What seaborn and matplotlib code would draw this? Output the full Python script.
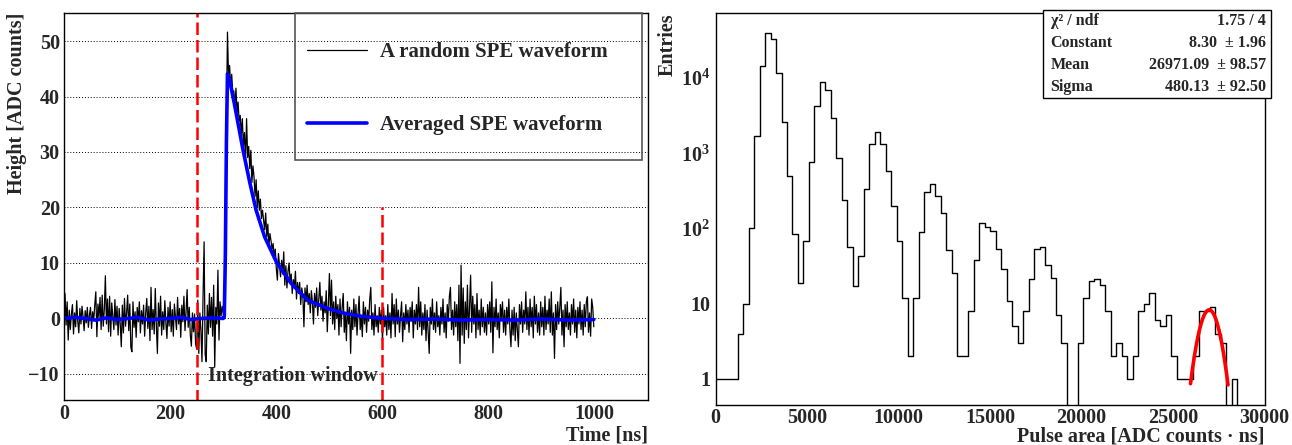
import numpy as np
import pandas as pd
import seaborn as sns
import matplotlib.pyplot as plt
from matplotlib.patches import Rectangle
from matplotlib.ticker import MultipleLocator, FixedLocator, FuncFormatter, LogLocator, NullFormatter

# ---- left panel: SPE waveforms ----
raw_time = list(range(0, 1000, 2))  # ns, one sample every 2 ns
raw_height = [
    -4.2, 4.5, -1.2, 3.0, -3.9, 1.5, -2.0, 0.8, 2.5, -2.8, 1.0, -1.5, 3.2, -0.5, -2.6, 1.8, -1.0, 2.2, 0.3, -2.2, 1.4, -0.8, 2.0, -1.6, 0.6,
    2.0, -1.8, 1.2, -0.4, 2.4, 4.8, -3.3, 2.6, 0.2, 3.8, -2.0, 4.2, -1.4, 1.6, 7.7, -1.0, 3.5, -2.4, 4.0, -3.2, 2.8, 0.5, -2.0, 3.4, -1.2,
    2.2, -3.0, 1.8, -1.0, -5.1, 2.4, -2.6, 3.6, -1.4, 1.0, 4.2, -2.2, 2.6, -5.2, -6.0, 3.0, -1.6, 1.2, -3.4, 2.0, -0.6, 3.0, -2.6, 1.4, -1.0,
    2.4, -3.2, 1.0, 3.6, -1.8, 2.2, -4.0, 5.6, -2.0, 1.6, -2.8, 5.4, -1.2, -6.3, 2.8, -1.4, 4.0, -3.0, 1.2, -2.0, 3.2, -0.8, -3.6, 2.0, -1.4,
    3.0, -2.4, 1.6, -3.2, 2.6, 0.4, -2.0, 3.8, -1.0, 1.8, -3.4, 2.4, -0.6, 4.0, -2.2, 1.2, 5.2, -1.6, 2.0, -3.0, -5.0, 1.0, -2.4, 0.8, -4.6,
    -5.5, 3.3, -6.3, 1.0, -2.2, -7.8, 4.0, 13.8, -6.5, -7.8, 2.4, -2.8, 4.5, -1.6, 3.8, -3.2, 6.0, -8.7, 2.0, -1.0, 8.7, -3.9, 3.0, 0.5, 2.2,
    1.0, 0.8, 12.0, 36.0, 51.6, 43.5, 45.6, 41.7, 44.0, 40.5, 41.0, 38.0, 41.5, 37.0, 39.0, 35.5, 36.6, 33.0, 36.0, 31.0, 33.5, 28.5, 36.0, 29.0, 31.0,
    27.0, 30.3, 24.5, 27.5, 25.5, 22.0, 25.0, 20.0, 23.0, 19.5, 21.5, 18.0, 19.5, 17.7, 16.0, 19.0, 14.7, 17.0, 13.0, 15.3, 14.0, 12.5, 13.5, 11.0, 12.5,
    9.0, 6.9, 11.7, 9.5, 7.5, 10.5, 8.0, 12.0, 6.0, 9.5, 5.5, 8.5, 10.0, 6.5, 8.0, 4.5, 7.0, 5.5, 8.5, 3.5, 6.5, 4.5, 6.5, 2.5, 5.5,
    4.0, -1.5, 5.5, 3.0, 6.0, 2.5, 4.5, 1.0, 5.0, 3.0, -1.0, 4.5, 2.0, 5.5, 0.5, 3.5, 6.5, 1.5, 4.0, -0.5, 3.0, 1.0, 5.0, -2.4, 2.5,
    8.1, 0.5, 6.9, -1.0, 3.0, -2.0, 4.0, 0.0, 2.5, -3.0, 3.5, -1.5, 2.0, 4.5, -2.5, 1.0, -4.0, 3.0, -1.0, 2.0, -6.3, 1.5, -2.0, 3.5, -1.5,
    2.5, -3.0, 1.0, 4.0, -2.0, 0.5, -3.3, 3.0, -1.0, 2.0, -2.5, 1.5, -0.5, 3.5, 5.6, -2.0, 1.0, -3.0, 2.5, -1.5, 0.5, -2.5, 2.0, -1.0, 1.5,
    -4.0, 2.0, -1.5, 0.5, -3.0, 2.5, -2.0, 1.0, -3.5, 4.5, -1.0, 2.5, -3.3, 3.5, -1.0, 1.5, -2.5, 0.5, 3.0, -4.2, 1.0, -2.0, 2.5, -1.0, 1.5,
    -2.5, 2.0, -0.5, 3.0, -3.5, 1.5, -1.0, 2.5, -2.0, 5.6, -1.5, 3.0, -3.0, 1.0, -2.0, 2.5, -4.0, 1.5, -2.5, -6.3, 2.0, -1.0, 3.5, -2.0, 1.0,
    -2.5, 3.0, -1.5, 0.5, -3.0, 2.0, -1.0, 3.5, -2.5, 1.0, -3.5, 2.5, -0.5, 4.0, 5.6, -2.0, 1.5, -3.0, 3.0, -1.5, 2.5, -4.0, 6.0, -8.1, 9.6,
    -3.0, 5.5, -4.5, 3.0, -2.0, 6.0, -3.5, 2.0, 7.8, -2.5, 4.0, -1.0, 2.5, -3.5, 4.5, -2.0, 1.5, -3.0, 3.5, -1.5, 2.0, -2.5, 1.0, -3.0, 2.5,
    -1.0, 3.0, -2.5, 6.6, -6.2, 2.0, -1.5, 3.5, -2.0, 1.0, -3.5, 2.5, 0.0, 3.0, -2.5, 1.5, -3.0, 2.0, -1.0, 3.5, -2.0, -5.1, 1.5, -3.0, 2.0,
    -4.0, 1.0, -2.0, -5.1, 2.5, -1.0, 3.0, -2.5, 1.5, -1.0, 4.8, -2.0, 2.0, -3.0, 3.5, -1.5, 2.0, -3.5, 4.0, -1.0, 2.5, -2.5, 1.0, -3.0, 3.0,
    -1.5, 2.0, -3.0, 4.0, -2.0, 1.5, -1.0, 3.5, -2.5, 4.8, -3.0, 1.0, -7.2, 2.5, -2.0, 3.0, -1.0, 2.0, 5.6, -3.0, 1.5, -5.1, 2.5, -1.5, 3.0,
    -2.0, 1.0, -3.0, 2.5, -1.0, 3.5, -2.5, 1.5, -3.5, 2.0, -1.0, 3.0, -2.0, 1.5, -3.0, 2.5, -1.5, 3.0, 3.9, -2.5, 1.0, -3.2, 3.5, 2.0, -1.5,
]

avg_time = [0, 20, 40, 60, 80, 100, 120, 140, 160, 180, 200, 220, 240, 260, 280, 300, 302, 304, 306, 308,
            312, 321, 337, 350, 362, 378, 400, 428, 459, 497, 530, 560, 600, 650, 700, 750, 800, 850, 900, 950, 998]
avg_height = [0.0, 0.2, 0.0, -0.3, 0.1, -0.2, 0.0, 0.2, -0.3, -0.1, 0.0, 0.2, -0.2, 0.0, 0.1, 0.0, 0.3, 11.4, 31.6, 44.1,
              43.0, 38.7, 30.5, 24.5, 19.5, 14.7, 10.2, 6.3, 3.3, 1.8, 0.9, 0.4, 0.0, -0.2, -0.1, -0.3, -0.2, -0.3, -0.1, -0.3, -0.2]

window_edges = [250, 600]
window_tops = [55, 20]

# ---- right panel: pulse area spectrum, 100 bins of 300 ----
bin_edges = list(range(0, 30001, 300))
entries = [
    1, 1, 1, 1, 4, 10, 100, 1670, 14400, 39800,
    33300, 11700, 2600, 505, 85, 19, 68, 776, 4240, 8750,
    6930, 2900, 870, 236, 56, 17, 43, 335, 1340, 1900,
    1310, 580, 200, 69, 12, 2, 12, 91, 309, 390,
    268, 160, 52, 26, 2, 2, 8, 38, 117, 104,
    92, 54, 29, 11, 5, 3, 8, 21, 54, 56,
    33, 22, 7, 3, 0, 0, 3, 12, 20, 21,
    18, 8, 2, 3, 2, 1, 2, 8, 10, 14,
    6, 5, 7, 2, 1, 1, 1, 2, 8, 8,
    9, 4, 3, 0, 1, 0, 0, 0, 0, 0,
]
fit_const, fit_mean, fit_sigma = 8.30, 26971.09, 480.13
fit_range = (25950, 28000)
stats_names = ["\u03c7\u00b2 / ndf", "Constant", "Mean", "Sigma"]
stats_values = ["1.75 / 4", "8.30  \u00b1 1.96", "26971.09  \u00b1 98.57", "480.13  \u00b1 92.50"]

sns.set_style("white")
plt.rcParams["font.family"] = ["Liberation Serif", "DejaVu Serif"]
plt.rcParams["font.weight"] = "bold"
plt.rcParams["axes.labelweight"] = "bold"
plt.rcParams["mathtext.fontset"] = "custom"
plt.rcParams["mathtext.rm"] = "Liberation Serif:bold"
plt.rcParams["mathtext.bf"] = "Liberation Serif:bold"
plt.rcParams["xtick.direction"] = "in"
plt.rcParams["ytick.direction"] = "in"

fs = 14.5
fig = plt.figure(figsize=(12.92, 4.45), dpi=100)
ax1 = fig.add_axes([0.0495, 0.1011, 0.452, 0.8697])
ax2 = fig.add_axes([0.5539, 0.0899, 0.4249, 0.8802])

# left
wave = pd.DataFrame({"t": raw_time, "h": raw_height})
avg = pd.DataFrame({"t": avg_time, "h": avg_height})
sns.lineplot(data=wave, x="t", y="h", ax=ax1, color="black", lw=0.9,
             estimator=None, sort=False, label="A random SPE waveform")
sns.lineplot(data=avg, x="t", y="h", ax=ax1, color="blue", lw=2.6,
             estimator=None, sort=False, label="Averaged SPE waveform")
for t, top in zip(window_edges, window_tops):
    ax1.plot([t, t], [-15, top], color="red", lw=1.8, ls=(0, (5, 2)))
ax1.text(np.mean(window_edges) + 7, -10.4, "Integration window", ha="center", va="center",
         fontsize=fs, fontweight="bold")

ax1.set_xlim(0, 1100)
ax1.set_ylim(-14.7, 55.05)
ax1.xaxis.set_major_locator(FixedLocator([0, 200, 400, 600, 800, 1000]))
ax1.xaxis.set_minor_locator(MultipleLocator(50))
ax1.yaxis.set_major_locator(MultipleLocator(10))
ax1.yaxis.set_minor_locator(MultipleLocator(2))
ax1.yaxis.grid(True, which="major", color="black", lw=0.7, ls=(0, (1, 2)))
ax1.tick_params(axis="x", which="major", length=8.5, width=1, labelsize=fs, pad=3)
ax1.tick_params(axis="x", which="minor", length=4.5, width=1)
ax1.tick_params(axis="y", which="major", length=11.5, width=1, labelsize=fs, pad=3)
ax1.tick_params(axis="y", which="minor", length=6.5, width=1)
ax1.set_xlabel("Time [ns]", fontsize=fs, loc="right")
ax1.set_ylabel("Height [ADC counts]", fontsize=fs, loc="top")
ax1.xaxis.set_label_coords(1.0, -0.066)
ax1.yaxis.set_label_coords(-0.063, 1.0)

ax1.add_patch(Rectangle((0.395, 0.62), 0.594, 0.38, transform=ax1.transAxes, fill=False,
                        ec="#555555", lw=1.2, clip_on=False, zorder=5))
ax1.legend(loc="upper left", bbox_to_anchor=(0.416, 0.925), frameon=False, borderpad=0,
           borderaxespad=0, labelspacing=2.55, handlelength=2.9, handletextpad=0.6,
           prop={"family": "Liberation Serif", "weight": "bold", "size": 15})

# right
centers = [(a + b) / 2 for a, b in zip(bin_edges[:-1], bin_edges[1:])]
sns.histplot(x=centers, weights=entries, bins=bin_edges, element="step", fill=False,
             color="black", lw=1.0, ax=ax2)
fit_x = np.linspace(fit_range[0], fit_range[1], 200)
fit_y = fit_const * np.exp(-0.5 * ((fit_x - fit_mean) / fit_sigma) ** 2)
sns.lineplot(x=fit_x, y=fit_y, ax=ax2, color="red", lw=2.6)

ax2.set_yscale("log")
ax2.set_xlim(0, 30000)
ax2.set_ylim(0.451, 72400)
ax2.xaxis.set_major_locator(MultipleLocator(5000))
ax2.xaxis.set_minor_locator(MultipleLocator(1000))
ax2.yaxis.set_major_locator(FixedLocator([1, 10, 100, 1000, 10000]))
ax2.yaxis.set_major_formatter(FuncFormatter(
    lambda v, p: "%d" % v if v < 100 else r"$\mathbf{10^{%d}}$" % round(np.log10(v))))
ax2.yaxis.set_minor_locator(LogLocator(base=10, subs=range(2, 10)))
ax2.yaxis.set_minor_formatter(NullFormatter())
ax2.tick_params(axis="x", which="major", length=8.5, width=1, labelsize=fs, pad=2)
ax2.tick_params(axis="x", which="minor", length=4.5, width=1)
ax2.tick_params(axis="y", which="major", length=13, width=1, labelsize=fs, pad=4)
ax2.tick_params(axis="y", which="minor", length=6.5, width=1)
ax2.set_xlabel("Pulse area [ADC counts \u00b7 ns]", fontsize=fs, loc="right")
ax2.set_ylabel("Entries", fontsize=fs, loc="top")
ax2.xaxis.set_label_coords(1.0, -0.054)
ax2.yaxis.set_label_coords(-0.07, 1.0)

for ax in (ax1, ax2):
    for s in ax.spines.values():
        s.set_color("black")
        s.set_linewidth(1.0)

# fit statistics box
fig.add_artist(Rectangle((0.807, 0.7798), 0.1767, 0.1978, transform=fig.transFigure,
                         fc="white", ec="black", lw=1.0, zorder=10))
rows_y = [0.9535, 0.9027, 0.854, 0.805]
for name, val, y in zip(stats_names, stats_values, rows_y):
    fig.text(0.8132, y, name, ha="left", va="center", fontsize=11.5, fontweight="bold", zorder=11)
    fig.text(0.9799, y, val, ha="right", va="center", fontsize=11.5, fontweight="bold", zorder=11)

fig.savefig("out.png", dpi=100)
